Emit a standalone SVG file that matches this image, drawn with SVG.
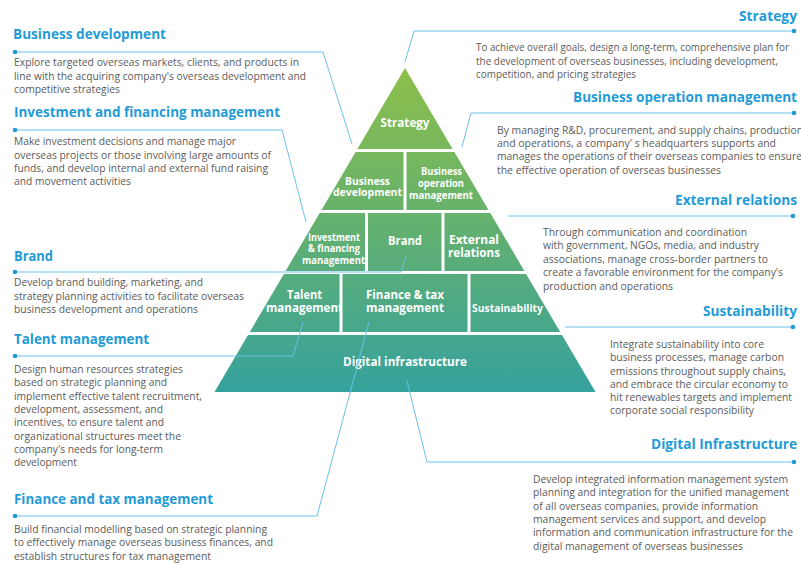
<svg xmlns="http://www.w3.org/2000/svg" width="801" height="563" viewBox="0 0 801 563">
<style>
.h{font-family:"Open Sans","Liberation Sans",sans-serif;font-weight:700;font-size:13.5px;fill:#1f9bd7}
.r{text-anchor:end}
.b{font-family:"Open Sans","Liberation Sans",sans-serif;font-size:10px;fill:#5b5b5b}
.p{font-family:"Open Sans","Liberation Sans",sans-serif;font-weight:700;fill:#ffffff;text-anchor:middle}
.c{fill:none;stroke:#6cc0ea;stroke-width:1}
.d{fill:#1f9bd7}
.blk{fill:url(#g)}
</style>
<defs>
<linearGradient id="g" gradientUnits="userSpaceOnUse" x1="0" y1="68" x2="0" y2="392">
<stop offset="0" stop-color="#8dbf4a"/>
<stop offset="0.5" stop-color="#62b070"/>
<stop offset="1" stop-color="#36a29d"/>
</linearGradient>
</defs>
<rect width="801" height="563" fill="#ffffff"/>

<g id="pyramid">
<g id="node-strategy"><polygon class="blk" points="405,68 452.6,149 357.4,149"/><text class="p" x="405" y="126.5" font-size="12.5" textLength="49" lengthAdjust="spacingAndGlyphs">Strategy</text></g>
<g id="node-business-development"><polygon class="blk" points="355.6,152 403.5,152 403.5,210 321.5,210"/><text class="p" x="367.5" y="185" font-size="10.5" textLength="45" lengthAdjust="spacingAndGlyphs">Business</text><text class="p" x="367.5" y="196" font-size="10.5" textLength="69" lengthAdjust="spacingAndGlyphs">development</text></g>
<g id="node-business-operation"><polygon class="blk" points="406.5,152 454.4,152 488.5,210 406.5,210"/><text class="p" x="441.5" y="175" font-size="10.5" textLength="41" lengthAdjust="spacingAndGlyphs">Business</text><text class="p" x="441" y="187" font-size="10.5" textLength="46" lengthAdjust="spacingAndGlyphs">operation</text><text class="p" x="441" y="199" font-size="10.5" textLength="64" lengthAdjust="spacingAndGlyphs">management</text></g>
<g id="node-investment"><polygon class="blk" points="319.7,213 365,213 365,271 285.6,271"/><text class="p" x="334" y="240.5" font-size="10" textLength="52" lengthAdjust="spacingAndGlyphs">Investment</text><text class="p" x="334" y="252" font-size="10" textLength="52" lengthAdjust="spacingAndGlyphs">&amp; financing</text><text class="p" x="333.5" y="263.5" font-size="10" textLength="63" lengthAdjust="spacingAndGlyphs">management</text></g>
<g id="node-brand"><polygon class="blk" points="368,213 441.5,213 441.5,271 368,271"/><text class="p" x="405" y="245" font-size="12" textLength="34" lengthAdjust="spacingAndGlyphs">Brand</text></g>
<g id="node-external"><polygon class="blk" points="444.5,213 490.3,213 524.4,271 444.5,271"/><text class="p" x="474" y="244" font-size="12" textLength="50" lengthAdjust="spacingAndGlyphs">External</text><text class="p" x="474" y="257" font-size="12" textLength="52" lengthAdjust="spacingAndGlyphs">relations</text></g>
<g id="node-talent"><polygon class="blk" points="283.9,274 339.5,274 339.5,332 249.8,332"/><text class="p" x="304.5" y="299" font-size="12" textLength="35" lengthAdjust="spacingAndGlyphs">Talent</text><text class="p" x="304.5" y="312" font-size="12" textLength="77" lengthAdjust="spacingAndGlyphs">management</text></g>
<g id="node-finance"><polygon class="blk" points="342.5,274 467.5,274 467.5,332 342.5,332"/><text class="p" x="405" y="299" font-size="12" textLength="78" lengthAdjust="spacingAndGlyphs">Finance &amp; tax</text><text class="p" x="405" y="312" font-size="12" textLength="78" lengthAdjust="spacingAndGlyphs">management</text></g>
<g id="node-sustainability"><polygon class="blk" points="470.5,274 526.1,274 560.2,332 470.5,332"/><text class="p" x="507.5" y="311.5" font-size="10.5" textLength="71" lengthAdjust="spacingAndGlyphs">Sustainability</text></g>
<g id="node-digital"><polygon class="blk" points="248,335 562,335 595.5,392 214.5,392"/><text class="p" x="405" y="366" font-size="12" textLength="124" lengthAdjust="spacingAndGlyphs">Digital infrastructure</text></g>
</g>

<g id="connectors">
<path class="c" d="M794,31 H414 L405,62"/>
<path class="c" d="M15,52 H323 L352,144"/>
<path class="c" d="M794,113 H471 L462,147"/>
<path class="c" d="M15,130 H282 L306,222"/>
<path class="c" d="M15,272 H401 L406,256"/>
<path class="c" d="M793,216 H508"/>
<path class="c" d="M793,327 H565"/>
<path class="c" d="M15,356 H293 L303,322"/>
<path class="c" d="M15,516 H317 L369,322"/>
<path class="c" d="M794,462 H427 L407,381"/>
<circle class="d" cx="794" cy="31" r="2.3"/>
<circle class="d" cx="15" cy="52" r="2.3"/>
<circle class="d" cx="794" cy="113" r="2.3"/>
<circle class="d" cx="15" cy="130" r="2.3"/>
<circle class="d" cx="15" cy="272" r="2.3"/>
<circle class="d" cx="793" cy="216" r="2.3"/>
<circle class="d" cx="793" cy="327" r="2.3"/>
<circle class="d" cx="15" cy="356" r="2.3"/>
<circle class="d" cx="15" cy="516" r="2.3"/>
<circle class="d" cx="794" cy="462" r="2.3"/>
</g>

<g id="callout-business-development">
<text class="h" x="13" y="39" textLength="153" lengthAdjust="spacingAndGlyphs">Business development</text>
<text class="b" x="14" y="66" textLength="285" lengthAdjust="spacingAndGlyphs">Explore targeted overseas markets, clients, and products in</text>
<text class="b" x="14" y="80" textLength="292" lengthAdjust="spacingAndGlyphs">line with the acquiring company's overseas development and</text>
<text class="b" x="14" y="93" textLength="106" lengthAdjust="spacingAndGlyphs">competitive strategies</text>
</g>
<g id="callout-investment">
<text class="h" x="14" y="117" textLength="266" lengthAdjust="spacingAndGlyphs">Investment and financing management</text>
<text class="b" x="14" y="145" textLength="222" lengthAdjust="spacingAndGlyphs">Make investment decisions and manage major</text>
<text class="b" x="14" y="159" textLength="257" lengthAdjust="spacingAndGlyphs">overseas projects or those involving large amounts of</text>
<text class="b" x="14" y="172" textLength="254" lengthAdjust="spacingAndGlyphs">funds, and develop internal and external fund raising</text>
<text class="b" x="14" y="185" textLength="117" lengthAdjust="spacingAndGlyphs">and movement activities</text>
</g>
<g id="callout-brand">
<text class="h" x="14" y="261" textLength="39" lengthAdjust="spacingAndGlyphs">Brand</text>
<text class="b" x="14" y="286" textLength="189" lengthAdjust="spacingAndGlyphs">Develop brand building, marketing, and</text>
<text class="b" x="14" y="300" textLength="230" lengthAdjust="spacingAndGlyphs">strategy planning activities to facilitate overseas</text>
<text class="b" x="14" y="313" textLength="184" lengthAdjust="spacingAndGlyphs">business development and operations</text>
</g>
<g id="callout-talent">
<text class="h" x="14" y="344" textLength="135" lengthAdjust="spacingAndGlyphs">Talent management</text>
<text class="b" x="14" y="373" textLength="169" lengthAdjust="spacingAndGlyphs">Design human resources strategies</text>
<text class="b" x="14" y="386" textLength="153" lengthAdjust="spacingAndGlyphs">based on strategic planning and</text>
<text class="b" x="14" y="400" textLength="188" lengthAdjust="spacingAndGlyphs">implement effective talent recruitment,</text>
<text class="b" x="14" y="413" textLength="149" lengthAdjust="spacingAndGlyphs">development, assessment, and</text>
<text class="b" x="14" y="426" textLength="150" lengthAdjust="spacingAndGlyphs">incentives, to ensure talent and</text>
<text class="b" x="14" y="440" textLength="167" lengthAdjust="spacingAndGlyphs">organizational structures meet the</text>
<text class="b" x="14" y="453" textLength="149" lengthAdjust="spacingAndGlyphs">company's needs for long-term</text>
<text class="b" x="14" y="466" textLength="63" lengthAdjust="spacingAndGlyphs">development</text>
</g>
<g id="callout-finance">
<text class="h" x="14" y="504" textLength="199" lengthAdjust="spacingAndGlyphs">Finance and tax management</text>
<text class="b" x="14" y="533" textLength="253" lengthAdjust="spacingAndGlyphs">Build financial modelling based on strategic planning</text>
<text class="b" x="14" y="546" textLength="259" lengthAdjust="spacingAndGlyphs">to effectively manage overseas business finances, and</text>
<text class="b" x="14" y="560" textLength="197" lengthAdjust="spacingAndGlyphs">establish structures for tax management</text>
</g>

<g id="callout-strategy">
<text class="h r" x="797" y="21" textLength="58" lengthAdjust="spacingAndGlyphs">Strategy</text>
<text class="b" x="476" y="51" textLength="313" lengthAdjust="spacingAndGlyphs">To achieve overall goals, design a long-term, comprehensive plan for</text>
<text class="b" x="476" y="65" textLength="302" lengthAdjust="spacingAndGlyphs">the development of overseas businesses, including development,</text>
<text class="b" x="476" y="78" textLength="160" lengthAdjust="spacingAndGlyphs">competition, and pricing strategies</text>
</g>
<g id="callout-business-operation">
<text class="h r" x="797" y="102" textLength="224" lengthAdjust="spacingAndGlyphs">Business operation management</text>
<text class="b" x="497" y="134" textLength="306" lengthAdjust="spacingAndGlyphs">By managing R&amp;D, procurement, and supply chains, production</text>
<text class="b" x="497" y="147" textLength="279" lengthAdjust="spacingAndGlyphs">and operations, a company' s headquarters supports and</text>
<text class="b" x="497" y="160" textLength="305" lengthAdjust="spacingAndGlyphs">manages the operations of their overseas companies to ensure</text>
<text class="b" x="497" y="174" textLength="224" lengthAdjust="spacingAndGlyphs">the effective operation of overseas businesses</text>
</g>
<g id="callout-external">
<text class="h r" x="797" y="205" textLength="122" lengthAdjust="spacingAndGlyphs">External relations</text>
<text class="b" x="543" y="236" textLength="204" lengthAdjust="spacingAndGlyphs">Through communication and coordination</text>
<text class="b" x="543" y="249" textLength="216" lengthAdjust="spacingAndGlyphs">with government, NGOs, media, and industry</text>
<text class="b" x="543" y="263" textLength="225" lengthAdjust="spacingAndGlyphs">associations, manage cross-border partners to</text>
<text class="b" x="543" y="276" textLength="240" lengthAdjust="spacingAndGlyphs">create a favorable environment for the company's</text>
<text class="b" x="543" y="290" textLength="130" lengthAdjust="spacingAndGlyphs">production and operations</text>
</g>
<g id="callout-sustainability">
<text class="h r" x="797" y="316" textLength="94" lengthAdjust="spacingAndGlyphs">Sustainability</text>
<text class="b" x="610" y="348" textLength="154" lengthAdjust="spacingAndGlyphs">Integrate sustainability into core</text>
<text class="b" x="610" y="361" textLength="174" lengthAdjust="spacingAndGlyphs">business processes, manage carbon</text>
<text class="b" x="610" y="375" textLength="176" lengthAdjust="spacingAndGlyphs">emissions throughout supply chains,</text>
<text class="b" x="610" y="388" textLength="178" lengthAdjust="spacingAndGlyphs">and embrace the circular economy to</text>
<text class="b" x="610" y="401" textLength="182" lengthAdjust="spacingAndGlyphs">hit renewables targets and implement</text>
<text class="b" x="610" y="414" textLength="144" lengthAdjust="spacingAndGlyphs">corporate social responsibility</text>
</g>
<g id="callout-digital">
<text class="h r" x="797" y="449" textLength="146" lengthAdjust="spacingAndGlyphs">Digital Infrastructure</text>
<text class="b" x="533" y="483" textLength="255" lengthAdjust="spacingAndGlyphs">Develop integrated information management system</text>
<text class="b" x="533" y="496" textLength="256" lengthAdjust="spacingAndGlyphs">planning and integration for the unified management</text>
<text class="b" x="533" y="510" textLength="225" lengthAdjust="spacingAndGlyphs">of all overseas companies, provide information</text>
<text class="b" x="533" y="523" textLength="233" lengthAdjust="spacingAndGlyphs">management services and support, and develop</text>
<text class="b" x="533" y="536" textLength="260" lengthAdjust="spacingAndGlyphs">information and communication infrastructure for the</text>
<text class="b" x="533" y="550" textLength="210" lengthAdjust="spacingAndGlyphs">digital management of overseas businesses</text>
</g>
</svg>
